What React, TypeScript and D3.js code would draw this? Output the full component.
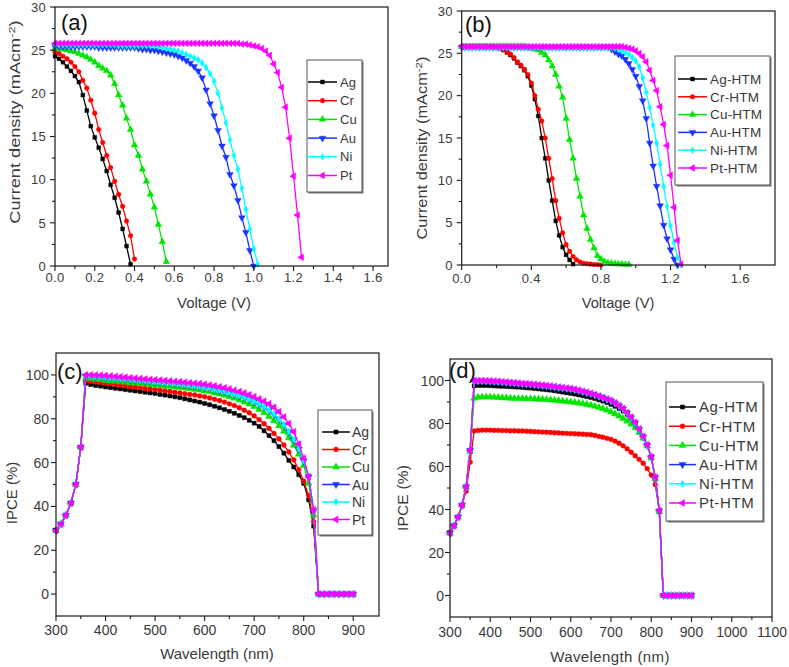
import React from 'react';
import * as d3 from 'd3';

// ---------------- DATA ----------------
const voltage = [
  0, 0.02, 0.04, 0.06, 0.08, 0.1, 0.12, 0.14, 0.16, 0.18,
  0.2, 0.22, 0.24, 0.26, 0.28, 0.3, 0.32, 0.34, 0.36, 0.38,
  0.4, 0.42, 0.44, 0.46, 0.48, 0.5, 0.52, 0.54, 0.56, 0.58,
  0.6, 0.62, 0.64, 0.66, 0.68, 0.7, 0.72, 0.74, 0.76, 0.78,
  0.8, 0.82, 0.84, 0.86, 0.88, 0.9, 0.92, 0.94, 0.96, 0.98,
  1, 1.02, 1.04, 1.06, 1.08, 1.1, 1.12, 1.14, 1.16, 1.18,
  1.2, 1.22, 1.24, 1.26,
];

// panel (a): metal electrodes, J (mA cm^-2)
const jA_Ag = [
  24.3, 24.0, 23.6, 23.1, 22.6, 22.0, 21.3, 19.8, 18.0, 16.2,
  14.9, 13.7, 12.4, 11.0, 9.4, 7.9, 6.2, 4.3, 2.3, 0.2,
];
const jA_Cr = [
  24.8, 24.6, 24.3, 24.0, 23.6, 23.1, 22.5, 21.5, 20.6, 19.2,
  17.7, 15.8, 14.3, 12.8, 11.4, 9.8, 8.3, 6.9, 5.2, 3.5,
  0.8,
];
const jA_Cu = [
  25.2, 25.2, 25.1, 25.0, 24.9, 24.8, 24.6, 24.4, 24.2, 23.9,
  23.6, 23.2, 22.9, 22.6, 22.1, 21.1, 19.8, 18.6, 17.1, 15.8,
  14.0, 12.8, 11.2, 9.8, 8.3, 6.8, 4.8, 2.8, 0.5,
];
const jA_Au = [
  25.4, 25.4, 25.4, 25.4, 25.4, 25.4, 25.4, 25.4, 25.4, 25.4,
  25.4, 25.3, 25.3, 25.3, 25.3, 25.3, 25.3, 25.3, 25.3, 25.3,
  25.3, 25.2, 25.1, 25.1, 25.0, 25.0, 24.9, 24.8, 24.7, 24.6,
  24.5, 24.3, 24.1, 23.8, 23.5, 23.1, 22.6, 21.8, 20.4, 18.8,
  17.4, 15.7, 13.9, 12.6, 10.6, 9.3, 7.6, 5.6, 3.9, 1.8,
  0.0,
];
const jA_Ni = [
  25.6, 25.6, 25.6, 25.6, 25.6, 25.6, 25.6, 25.6, 25.6, 25.6,
  25.6, 25.6, 25.6, 25.6, 25.6, 25.6, 25.5, 25.5, 25.5, 25.5,
  25.5, 25.5, 25.5, 25.5, 25.5, 25.5, 25.4, 25.3, 25.2, 25.1,
  25.0, 24.9, 24.7, 24.5, 24.3, 24.1, 23.9, 23.5, 23.0, 22.3,
  21.4, 20.0, 18.3, 16.6, 14.6, 12.8, 11.2, 9.0, 6.6, 4.3,
  2.0, 0.2,
];
const jA_Pt = [
  25.8, 25.8, 25.8, 25.8, 25.8, 25.8, 25.8, 25.8, 25.8, 25.8,
  25.8, 25.8, 25.8, 25.8, 25.8, 25.8, 25.8, 25.8, 25.8, 25.8,
  25.8, 25.8, 25.8, 25.8, 25.8, 25.8, 25.8, 25.8, 25.8, 25.8,
  25.8, 25.8, 25.8, 25.8, 25.8, 25.8, 25.8, 25.8, 25.8, 25.8,
  25.8, 25.8, 25.8, 25.8, 25.8, 25.8, 25.8, 25.7, 25.7, 25.6,
  25.5, 25.4, 25.2, 24.9, 24.4, 23.4, 22.4, 20.7, 18.4, 14.8,
  10.4, 5.9, 1.0,
];

// panel (b): metal + HTM
const jB_Ag = [
  25.8, 25.8, 25.8, 25.8, 25.8, 25.8, 25.8, 25.8, 25.8, 25.8,
  25.7, 25.6, 25.4, 25.1, 24.8, 24.4, 23.9, 23.5, 23.0, 22.3,
  21.2, 19.6, 17.6, 15.0, 12.6, 10.0, 7.6, 5.2, 3.5, 2.1,
  1.2, 0.6, 0.1,
];
const jB_Cr = [
  25.8, 25.8, 25.8, 25.8, 25.8, 25.8, 25.8, 25.8, 25.8, 25.8,
  25.7, 25.6, 25.4, 25.2, 24.9, 24.5, 24.0, 23.6, 23.1, 22.5,
  21.5, 20.0, 18.4, 17.0, 15.0, 12.6, 10.2, 7.6, 5.5, 3.8,
  2.4, 1.6, 1.0, 0.6, 0.35, 0.2, 0.15, 0.1, 0.05, 0.05,
  0.0,
];
const jB_Cu = [
  25.8, 25.8, 25.8, 25.8, 25.8, 25.8, 25.8, 25.8, 25.8, 25.8,
  25.8, 25.8, 25.8, 25.8, 25.8, 25.8, 25.8, 25.8, 25.8, 25.7,
  25.6, 25.5, 25.4, 25.1, 24.8, 24.2, 23.5, 22.5, 21.1, 19.8,
  17.3, 14.8, 12.6, 10.2, 8.1, 5.9, 4.3, 3.0, 2.0, 1.1,
  0.7, 0.4, 0.25, 0.2, 0.15, 0.1, 0.1, 0.05, 0.05,
];
const jB_Au = [
  25.7, 25.7, 25.7, 25.7, 25.7, 25.7, 25.7, 25.7, 25.7, 25.7,
  25.7, 25.7, 25.7, 25.7, 25.7, 25.7, 25.7, 25.7, 25.7, 25.7,
  25.7, 25.7, 25.7, 25.7, 25.7, 25.7, 25.7, 25.7, 25.7, 25.7,
  25.7, 25.7, 25.7, 25.7, 25.7, 25.7, 25.7, 25.7, 25.7, 25.7,
  25.7, 25.7, 25.7, 25.5, 25.2, 24.9, 24.7, 24.3, 23.8, 23.1,
  22.3, 21.1, 19.4, 17.3, 14.4, 11.7, 9.3, 7.0, 4.7, 3.1,
  1.8, 0.7, 0.0,
];
const jB_Ni = [
  25.7, 25.7, 25.7, 25.7, 25.7, 25.7, 25.7, 25.7, 25.7, 25.7,
  25.7, 25.7, 25.7, 25.7, 25.7, 25.7, 25.7, 25.7, 25.7, 25.7,
  25.7, 25.7, 25.7, 25.7, 25.7, 25.7, 25.7, 25.7, 25.7, 25.7,
  25.7, 25.7, 25.7, 25.7, 25.7, 25.7, 25.7, 25.7, 25.7, 25.7,
  25.7, 25.7, 25.7, 25.7, 25.6, 25.5, 25.3, 25.1, 24.9, 24.5,
  24.1, 23.4, 22.1, 20.4, 18.6, 16.5, 14.4, 11.9, 9.3, 6.9,
  4.6, 2.7, 0.9, 0.0,
];
const jB_Pt = [
  25.8, 25.8, 25.8, 25.8, 25.8, 25.8, 25.8, 25.8, 25.8, 25.8,
  25.8, 25.8, 25.8, 25.8, 25.8, 25.8, 25.8, 25.8, 25.8, 25.8,
  25.8, 25.8, 25.8, 25.8, 25.8, 25.8, 25.8, 25.8, 25.8, 25.8,
  25.8, 25.8, 25.8, 25.8, 25.8, 25.8, 25.8, 25.8, 25.8, 25.8,
  25.8, 25.8, 25.8, 25.8, 25.8, 25.8, 25.8, 25.7, 25.6, 25.5,
  25.3, 25.0, 24.6, 24.0, 23.0, 21.8, 20.6, 18.7, 16.6, 14.1,
  10.6, 6.8, 2.9, 0.1,
];

const wavelength = [
  300, 310, 320, 330, 340, 350,
  360, 370, 380, 390, 400, 410, 420, 430, 440, 450,
  460, 470, 480, 490, 500, 510, 520, 530, 540, 550,
  560, 570, 580, 590, 600, 610, 620, 630, 640, 650,
  660, 670, 680, 690, 700, 710, 720, 730, 740, 750,
  760, 770, 780, 790, 800, 810, 820,
  830, 840, 850, 860, 870, 880, 890, 900,
];

// panel (c): IPCE (%)
const ipceC_Ag = [
  29, 32, 36, 41.5, 50, 67,
  96.2, 95.6, 95.2, 94.9, 94.5, 94.2, 93.9, 93.6, 93.3, 93.0,
  92.7, 92.4, 92.1, 91.8, 91.5, 91.1, 90.8, 90.4, 90.0, 89.6,
  89.1, 88.6, 88.1, 87.6, 87.0, 86.4, 85.7, 85.0, 84.2, 83.4,
  82.5, 81.5, 80.5, 79.3, 78.0, 76.5, 74.5, 72.3, 70.0, 67.3,
  64.3, 61.0, 58.0, 54.5, 50.5, 43.0, 31.0,
  0, 0, 0, 0, 0, 0, 0, 0,
];
const ipceC_Cr = [
  29, 32, 36, 41.5, 50, 67,
  97.4, 97.1, 96.8, 96.5, 96.2, 95.9, 95.6, 95.3, 95.0, 94.7,
  94.4, 94.1, 93.8, 93.6, 93.3, 93.0, 92.7, 92.4, 92.1, 91.8,
  91.4, 91.1, 90.8, 90.4, 90.0, 89.5, 88.9, 88.3, 87.6, 86.8,
  86.0, 85.0, 83.9, 82.7, 81.3, 79.6, 77.7, 75.6, 73.3, 70.8,
  68.0, 64.8, 61.2, 56.8, 51.5, 45.0, 33.0,
  0, 0, 0, 0, 0, 0, 0, 0,
];
const ipceC_Cu = [
  29, 32, 36, 41.5, 50, 67,
  98.5, 98.3, 98.0, 97.8, 97.5, 97.3, 97.1, 96.9, 96.7, 96.5,
  96.3, 96.1, 95.9, 95.7, 95.4, 95.2, 94.9, 94.7, 94.5, 94.3,
  94.0, 93.7, 93.4, 93.1, 92.7, 92.3, 91.8, 91.3, 90.7, 90.1,
  89.4, 88.6, 87.7, 86.7, 85.6, 84.3, 82.8, 81.1, 79.1, 76.8,
  74.3, 71.3, 67.9, 63.8, 58.7, 50.5, 36.0,
  0, 0, 0, 0, 0, 0, 0, 0,
];
const ipceC_Au = [
  29, 32, 36, 41.5, 50, 67,
  99.5, 99.4, 99.2, 99.0, 98.8, 98.6, 98.4, 98.2, 98.0, 97.8,
  97.6, 97.4, 97.2, 97.0, 96.8, 96.6, 96.4, 96.2, 96.0, 95.8,
  95.5, 95.2, 94.9, 94.6, 94.2, 93.8, 93.3, 92.8, 92.3, 91.7,
  91.1, 90.4, 89.6, 88.7, 87.7, 86.6, 85.3, 83.8, 82.0, 79.8,
  77.2, 74.0, 70.4, 66.2, 60.8, 53.5, 38.0,
  0, 0, 0, 0, 0, 0, 0, 0,
];
const ipceC_Ni = [
  29, 32, 36, 41.5, 50, 67,
  99.6, 99.5, 99.4, 99.2, 99.0, 98.8, 98.6, 98.4, 98.2, 98.0,
  97.8, 97.6, 97.4, 97.2, 97.0, 96.8, 96.6, 96.4, 96.2, 96.0,
  95.7, 95.4, 95.1, 94.8, 94.4, 94.0, 93.5, 93.0, 92.5, 91.9,
  91.3, 90.6, 89.8, 88.9, 87.9, 86.8, 85.5, 84.0, 82.2, 80.0,
  77.4, 74.2, 70.6, 66.4, 61.0, 53.7, 38.2,
  0, 0, 0, 0, 0, 0, 0, 0,
];
const ipceC_Pt = [
  29, 32, 36, 41.5, 50, 67,
  100, 100, 99.9, 99.8, 99.7, 99.5, 99.3, 99.1, 98.9, 98.7,
  98.5, 98.3, 98.1, 97.9, 97.8, 97.6, 97.4, 97.2, 97.0, 96.8,
  96.6, 96.4, 96.2, 96.0, 95.7, 95.4, 95.0, 94.6, 94.1, 93.6,
  93.0, 92.4, 91.7, 90.9, 90.0, 89.0, 88.0, 86.8, 85.2, 83.2,
  80.8, 77.8, 74.0, 68.5, 62.0, 53.5, 38.5,
  0, 0, 0, 0, 0, 0, 0, 0,
];

// panel (d): IPCE (%) with HTM
const ipceD_Ag = [
  29, 32.5, 36.5, 42, 50.5, 67.5,
  97.5, 97.7, 97.7, 97.7, 97.6, 97.5, 97.4, 97.3, 97.2, 97.1,
  97.0, 96.9, 96.8, 96.6, 96.5, 96.3, 96.1, 95.9, 95.7, 95.5,
  95.2, 94.9, 94.6, 94.3, 94.0, 93.7, 93.3, 92.9, 92.5, 92.1,
  91.6, 91.0, 90.4, 89.7, 88.9, 88.0, 87.0, 85.8, 84.3, 82.4,
  80.1, 77.3, 73.8, 69.8, 64.3, 54.8, 39.3,
  0, 0, 0, 0, 0, 0, 0, 0,
];
const ipceD_Cr = [
  29, 32.5, 36.5, 42, 48.5, 62,
  76.5, 76.8, 76.9, 76.9, 76.9, 76.8, 76.8, 76.7, 76.7, 76.6,
  76.6, 76.5, 76.5, 76.4, 76.3, 76.2, 76.1, 76.0, 75.9, 75.8,
  75.7, 75.6, 75.5, 75.4, 75.3, 75.2, 75.1, 75.0, 74.9, 74.8,
  74.4, 74.0, 73.6, 73.1, 72.6, 71.8, 70.8, 69.6, 68.2, 66.6,
  65.0, 63.3, 61.5, 59.0, 56.0, 51.5, 39.0,
  0, 0, 0, 0, 0, 0, 0, 0,
];
const ipceD_Cu = [
  29, 32.5, 36.5, 42, 50.5, 67,
  91.8, 92.2, 92.3, 92.3, 92.3, 92.2, 92.1, 92.0, 91.9, 91.8,
  91.7, 91.6, 91.6, 91.5, 91.5, 91.4, 91.3, 91.2, 91.1, 91.0,
  90.8, 90.6, 90.4, 90.2, 90.0, 89.8, 89.5, 89.2, 88.9, 88.5,
  88.0, 87.5, 86.9, 86.2, 85.4, 84.5, 83.5, 82.4, 81.1, 79.7,
  78.0, 75.8, 73.2, 69.6, 64.0, 54.3, 39.0,
  0, 0, 0, 0, 0, 0, 0, 0,
];
const ipceD_Au = [
  29, 32.5, 36.5, 42, 50.5, 67.5,
  99.7, 99.7, 99.7, 99.6, 99.5, 99.4, 99.3, 99.1, 99.0, 98.8,
  98.7, 98.5, 98.3, 98.2, 98.1, 97.9, 97.7, 97.5, 97.3, 97.1,
  96.9, 96.6, 96.4, 96.2, 96.0, 95.6, 95.2, 94.7, 94.2, 93.7,
  93.1, 92.5, 91.8, 91.1, 90.4, 89.3, 88.1, 86.7, 84.8, 82.7,
  80.2, 77.2, 73.7, 69.8, 64.3, 54.8, 39.3,
  0, 0, 0, 0, 0, 0, 0, 0,
];
const ipceD_Ni = [
  29, 32.5, 36.5, 42, 50.5, 67.5,
  99.8, 99.8, 99.8, 99.7, 99.6, 99.5, 99.4, 99.2, 99.1, 98.9,
  98.8, 98.6, 98.4, 98.3, 98.2, 98.0, 97.8, 97.6, 97.4, 97.2,
  97.0, 96.7, 96.5, 96.3, 96.1, 95.7, 95.3, 94.8, 94.3, 93.8,
  93.2, 92.6, 91.9, 91.2, 90.5, 89.4, 88.2, 86.8, 84.9, 82.8,
  80.3, 77.3, 73.8, 69.9, 64.4, 54.9, 39.4,
  0, 0, 0, 0, 0, 0, 0, 0,
];
const ipceD_Pt = [
  29, 32.5, 36.5, 42, 50.5, 67.5,
  100, 100, 100, 99.9, 99.8, 99.7, 99.6, 99.4, 99.3, 99.1,
  99.0, 98.8, 98.6, 98.5, 98.4, 98.2, 98.0, 97.8, 97.6, 97.4,
  97.2, 96.9, 96.7, 96.5, 96.3, 95.9, 95.5, 95.0, 94.5, 94.0,
  93.4, 92.8, 92.1, 91.4, 90.7, 89.6, 88.4, 87.0, 85.1, 83.0,
  80.5, 77.5, 74.0, 70.0, 64.5, 55.0, 39.5,
  0, 0, 0, 0, 0, 0, 0, 0,
];

const metalNames = ['Ag', 'Cr', 'Cu', 'Au', 'Ni', 'Pt'];
const htmNames = ['Ag-HTM', 'Cr-HTM', 'Cu-HTM', 'Au-HTM', 'Ni-HTM', 'Pt-HTM'];
const seriesColors = ['#000000', '#ff0000', '#00e600', '#1a33ff', '#00ffff', '#ff00ff'];
const seriesSymbols = ['square', 'circle', 'up', 'down', 'diamond', 'left'];

const jTicks = [0, 5, 10, 15, 20, 25, 30];
const jMinor = [2.5, 7.5, 12.5, 17.5, 22.5, 27.5];
const voltTicksA = [0, 0.2, 0.4, 0.6, 0.8, 1.0, 1.2, 1.4, 1.6];
const voltMinorA = [0.1, 0.3, 0.5, 0.7, 0.9, 1.1, 1.3, 1.5];
const voltTicksB = [0, 0.4, 0.8, 1.2, 1.6];
const voltMinorB = [0.2, 0.6, 1.0, 1.4];
const ipceTicks = [0, 20, 40, 60, 80, 100];
const ipceMinor = [10, 30, 50, 70, 90];
const wlTicksC = [300, 400, 500, 600, 700, 800, 900];
const wlMinorC = [350, 450, 550, 650, 750, 850];
const wlTicksD = [300, 400, 500, 600, 700, 800, 900, 1000, 1100];
const wlMinorD = [350, 450, 550, 650, 750, 850, 950, 1050];

// ---------------- RENDERING ----------------
const FONT = "'Liberation Sans', Arial, Helvetica, sans-serif";

const symbolPath = (kind: string, size: number) => {
  const map: any = {
    square: d3.symbolSquare,
    circle: d3.symbolCircle,
    up: d3.symbolTriangle,
    down: d3.symbolTriangle,
    diamond: d3.symbolDiamond,
    left: d3.symbolTriangle,
  };
  return d3.symbol(map[kind], size)() as string;
};
const symbolRot = (kind: string) => (kind === 'down' ? 180 : kind === 'left' ? -90 : 0);
const symbolSize = (kind: string, base: number) =>
  kind === 'square' ? base * 0.85 : kind === 'circle' ? base * 0.95 : kind === 'diamond' ? base * 0.8 : base * 1.1;

function Marker({ kind, x, y, color, base }: any) {
  return (
    <path
      d={symbolPath(kind, symbolSize(kind, base))}
      transform={`translate(${x},${y}) rotate(${symbolRot(kind)})`}
      fill={color}
      stroke={color}
      strokeWidth={0.4}
    />
  );
}

function T({ x, y, size, anchor = 'start', rot = 0, sx = 1, fill = '#3a3a3a', ls = 0, children }: any) {
  return (
    <text
      transform={`translate(${x},${y}) rotate(${rot}) scale(${sx},1)`}
      fontSize={size}
      textAnchor={anchor}
      fill={fill}
      letterSpacing={ls}
      fontFamily={FONT}
    >
      {children}
    </text>
  );
}

function Panel({ cfg }: any) {
  const { frame: f } = cfg;
  const x = d3.scaleLinear().domain(cfg.xDomain).range([f.l, f.r]);
  const y = d3.scaleLinear().domain(cfg.yDomain).range([f.b, f.t]);
  const line = d3
    .line<[number, number]>()
    .x((d) => x(d[0]))
    .y((d) => y(d[1]));
  const lg = cfg.legend;
  const tk = cfg.tick;
  return (
    <g>
      {/* curves */}
      {cfg.series.map((s: any, i: number) => {
        const pts: [number, number][] = s.ys.map((v: number, k: number) => [s.xs[k], v]);
        return (
          <g key={i}>
            <path d={line(pts) as string} fill="none" stroke={s.color} strokeWidth={1.3} />
            {pts.map((p, k) => (
              <Marker key={k} kind={s.symbol} x={x(p[0])} y={y(p[1])} color={s.color} base={cfg.markerBase} />
            ))}
          </g>
        );
      })}
      {/* frame */}
      <rect x={f.l} y={f.t} width={f.r - f.l} height={f.b - f.t} fill="none" stroke="#1a1a1a" strokeWidth={1.2} />
      {/* x ticks */}
      {cfg.xMajor.map((v: number, i: number) => (
        <g key={'xm' + i}>
          <line x1={x(v)} x2={x(v)} y1={f.b} y2={f.b + 5} stroke="#1a1a1a" strokeWidth={1.1} />
          <T x={x(v)} y={f.b + tk.xOff} size={tk.size} anchor="middle" ls={tk.ls}>
            {cfg.xFmt(v)}
          </T>
        </g>
      ))}
      {cfg.xMinor.map((v: number, i: number) => (
        <line key={'xn' + i} x1={x(v)} x2={x(v)} y1={f.b} y2={f.b + 3} stroke="#1a1a1a" strokeWidth={1.1} />
      ))}
      {/* y ticks */}
      {cfg.yMajor.map((v: number, i: number) => (
        <g key={'ym' + i}>
          <line x1={f.l - 5} x2={f.l} y1={y(v)} y2={y(v)} stroke="#1a1a1a" strokeWidth={1.1} />
          <T x={f.l - tk.yOff} y={y(v) + tk.size * 0.36} size={tk.size} anchor="end" ls={tk.ls}>
            {cfg.yFmt(v)}
          </T>
        </g>
      ))}
      {cfg.yMinor.map((v: number, i: number) => (
        <line key={'yn' + i} x1={f.l - 3} x2={f.l} y1={y(v)} y2={y(v)} stroke="#1a1a1a" strokeWidth={1.1} />
      ))}
      {/* axis titles */}
      <T x={cfg.xLabel.x} y={cfg.xLabel.y} size={cfg.xLabel.size} anchor="middle" sx={cfg.xLabel.sx} ls={cfg.xLabel.ls}>
        {cfg.xLabel.text}
      </T>
      <T x={cfg.yLabel.x} y={cfg.yLabel.y} size={cfg.yLabel.size} anchor="middle" rot={-90} sx={cfg.yLabel.sx} ls={cfg.yLabel.ls}>
        {cfg.yLabel.text}
        {cfg.yLabel.sup ? (
          <>
            <tspan dy={-5} fontSize={cfg.yLabel.size * 0.7}>
              {cfg.yLabel.sup}
            </tspan>
            <tspan dy={5}>)</tspan>
          </>
        ) : null}
      </T>
      {/* panel label */}
      <T x={cfg.tag.x} y={cfg.tag.y} size={cfg.tag.size} fill="#111">
        {cfg.tag.text}
      </T>
      {/* legend */}
      <rect x={lg.x0 + 1.5} y={lg.y0 + 1.5} width={lg.x1 - lg.x0} height={lg.y1 - lg.y0} fill="#777" />
      <rect x={lg.x0} y={lg.y0} width={lg.x1 - lg.x0} height={lg.y1 - lg.y0} fill="#fff" stroke="#555" strokeWidth={1} />
      {cfg.series.map((s: any, i: number) => {
        const ry = lg.row0 + i * lg.dy;
        const mx = (lg.lx0 + lg.lx1) / 2;
        return (
          <g key={'lg' + i}>
            <line x1={lg.lx0} x2={lg.lx1} y1={ry} y2={ry} stroke={s.color} strokeWidth={1.5} />
            <Marker kind={s.symbol} x={mx} y={ry} color={s.color} base={cfg.markerBase} />
            <T x={lg.tx} y={ry + lg.size * 0.36} size={lg.size} ls={lg.ls}>
              {s.name}
            </T>
          </g>
        );
      })}
    </g>
  );
}

const buildSeries = (names: string[], xs: number[], ys: number[][]) =>
  names.map((n, i) => ({ name: n, color: seriesColors[i], symbol: seriesSymbols[i], xs, ys: ys[i] }));

const panels = [
  {
    frame: { l: 55, t: 7, r: 388, b: 266 },
    xDomain: [0, 1.675],
    yDomain: [0, 30],
    xMajor: voltTicksA,
    xMinor: voltMinorA,
    yMajor: jTicks,
    yMinor: jMinor,
    xFmt: (v: number) => v.toFixed(1),
    yFmt: (v: number) => String(v),
    tick: { size: 13, xOff: 16, yOff: 9, ls: 0.3 },
    markerBase: 18,
    xLabel: { text: 'Voltage (V)', x: 214, y: 308, size: 14, sx: 1.07, ls: 0 },
    yLabel: { text: 'Current density (mAcm', sup: '-2', x: 20, y: 122, size: 14, sx: 1.3, ls: 0 },
    tag: { text: '(a)', x: 61, y: 30, size: 22 },
    legend: { x0: 307, y0: 60, x1: 362, y1: 192, row0: 82, dy: 18.7, lx0: 308, lx1: 337, tx: 340, size: 13, ls: 0 },
    series: buildSeries(metalNames, voltage, [jA_Ag, jA_Cr, jA_Cu, jA_Au, jA_Ni, jA_Pt]),
  },
  {
    frame: { l: 461.7, t: 11, r: 775, b: 265 },
    xDomain: [0, 1.8],
    yDomain: [0, 30],
    xMajor: voltTicksB,
    xMinor: voltMinorB,
    yMajor: jTicks,
    yMinor: jMinor,
    xFmt: (v: number) => v.toFixed(1),
    yFmt: (v: number) => String(v),
    tick: { size: 13, xOff: 18, yOff: 9, ls: 0.3 },
    markerBase: 18,
    xLabel: { text: 'Voltage (V)', x: 618, y: 308, size: 14, sx: 1.05, ls: 0 },
    yLabel: { text: 'Current density (mAcm', sup: '-2', x: 427, y: 148, size: 14, sx: 1.17, ls: 0 },
    tag: { text: '(b)', x: 465, y: 32, size: 22 },
    legend: { x0: 675, y0: 56, x1: 770, y1: 185, row0: 79, dy: 17.8, lx0: 678, lx1: 707, tx: 710, size: 13.5, ls: 0.2 },
    series: buildSeries(htmNames, voltage, [jB_Ag, jB_Cr, jB_Cu, jB_Au, jB_Ni, jB_Pt]),
  },
  {
    frame: { l: 56, t: 353, r: 379, b: 616 },
    xDomain: [300, 952],
    yDomain: [-10, 110],
    xMajor: wlTicksC,
    xMinor: wlMinorC,
    yMajor: ipceTicks,
    yMinor: ipceMinor,
    xFmt: (v: number) => String(v),
    yFmt: (v: number) => String(v),
    tick: { size: 14, xOff: 19, yOff: 7, ls: 0 },
    markerBase: 20,
    xLabel: { text: 'Wavelength (nm)', x: 217, y: 659, size: 15, sx: 1, ls: 0 },
    yLabel: { text: 'IPCE (%)', x: 17, y: 493, size: 15, sx: 1, ls: 0 },
    tag: { text: '(c)', x: 57, y: 379, size: 22 },
    legend: { x0: 318, y0: 410, x1: 372, y1: 535, row0: 432, dy: 17.5, lx0: 322, lx1: 350, tx: 352, size: 14, ls: 0 },
    series: buildSeries(metalNames, wavelength, [ipceC_Ag, ipceC_Cr, ipceC_Cu, ipceC_Au, ipceC_Ni, ipceC_Pt]),
  },
  {
    frame: { l: 450, t: 359, r: 772, b: 617 },
    xDomain: [300, 1100],
    yDomain: [-10, 110],
    xMajor: wlTicksD,
    xMinor: wlMinorD,
    yMajor: ipceTicks,
    yMinor: ipceMinor,
    xFmt: (v: number) => String(v),
    yFmt: (v: number) => String(v),
    tick: { size: 14, xOff: 20, yOff: 6, ls: 0 },
    markerBase: 20,
    xLabel: { text: 'Wavelength (nm)', x: 610, y: 662, size: 15, sx: 1, ls: 0.4 },
    yLabel: { text: 'IPCE (%)', x: 408, y: 498, size: 15.5, sx: 1, ls: 0.2 },
    tag: { text: '(d)', x: 449, y: 378, size: 22 },
    legend: { x0: 666, y0: 382, x1: 763, y1: 521, row0: 407, dy: 19.2, lx0: 669, lx1: 696, tx: 699, size: 15, ls: 0.6 },
    series: buildSeries(htmNames, wavelength, [ipceD_Ag, ipceD_Cr, ipceD_Cu, ipceD_Au, ipceD_Ni, ipceD_Pt]),
  },
];

export default function App() {
  return (
    <svg
      width={789}
      height={667}
      viewBox="0 0 789 667"
      style={{ position: 'absolute', left: 0, top: 0, background: '#fff' }}
    >
      <rect x={0} y={0} width={789} height={667} fill="#fff" />
      {panels.map((p, i) => (
        <Panel key={i} cfg={p} />
      ))}
    </svg>
  );
}
